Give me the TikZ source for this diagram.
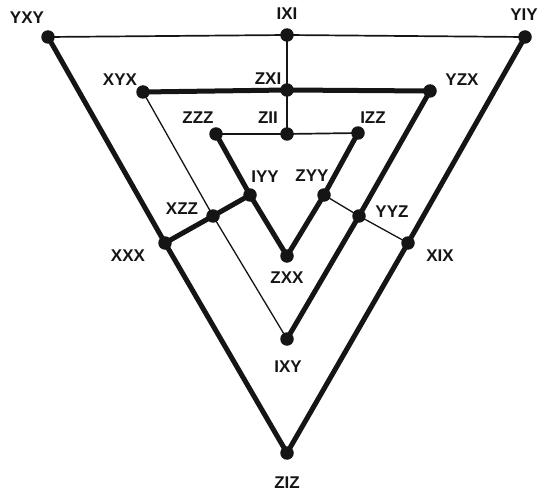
\documentclass[tikz,border=0pt]{standalone}
\usepackage{fontspec}
\setmainfont{Liberation Sans}
\usetikzlibrary{backgrounds}
\definecolor{ink}{HTML}{151515}
\tikzset{
  dot/.style={circle,fill=ink,inner sep=0pt,minimum size=13.5pt},
  lbl/.style={inner sep=0pt,text=ink,font=\fontsize{17}{20}\selectfont\bfseries},
  thickedge/.style={draw=ink,line width=5pt,line cap=round,line join=round},
  thinedge/.style={draw=ink,line width=1.7pt},
  fineedge/.style={draw=ink,line width=1.3pt}
}
\begin{document}
\begin{tikzpicture}[x=1pt,y=-1pt]
\useasboundingbox (0,0) rectangle (541,492);
% dots
\node[dot] (yxy) at (48,37) {};
\node[dot] (ixi) at (287,35) {};
\node[dot] (yiy) at (525,37) {};
\node[dot] (xyx) at (143,92) {};
\node[dot] (zxi) at (287,90) {};
\node[dot] (yzx) at (430,91) {};
\node[dot] (zzz) at (216,134) {};
\node[dot] (zii) at (287,134) {};
\node[dot] (izz) at (358,133) {};
\node[dot] (iyy) at (250,195) {};
\node[dot] (zyy) at (324,195) {};
\node[dot] (xzz) at (213,216) {};
\node[dot] (yyz) at (359,216) {};
\node[dot] (xxx) at (165,243) {};
\node[dot] (xix) at (408,243) {};
\node[dot] (zxx) at (287,256) {};
\node[dot] (ixy) at (287,339) {};
\node[dot] (ziz) at (287,453) {};
% labels
\node[lbl] (Lyxy) at (27,18) {YXY};
\node[lbl] (Lixi) at (287,14) {IXI};
\node[lbl] (Lyiy) at (524,15) {YIY};
\node[lbl] (Lxyx) at (120,80) {XYX};
\node[lbl] (Lzxi) at (268,79) {ZXI};
\node[lbl] (Lyzx) at (462,80) {YZX};
\node[lbl] (Lzzz) at (198,118) {ZZZ};
\node[lbl] (Lzii) at (268,118) {ZII};
\node[lbl] (Lizz) at (373,118) {IZZ};
\node[lbl] (Liyy) at (265,177) {IYY};
\node[lbl] (Lzyy) at (312,176) {ZYY};
\node[lbl] (Lxzz) at (182,209) {XZZ};
\node[lbl] (Lyyz) at (392,212) {YYZ};
\node[lbl] (Lxxx) at (128,256) {XXX};
\node[lbl] (Lxix) at (440,256) {XIX};
\node[lbl] (Lzxx) at (287,278) {ZXX};
\node[lbl] (Lixy) at (288,367) {IXY};
\node[lbl] (Lziz) at (287,483) {ZIZ};
% edges
\begin{pgfonlayer}{background}
\path[thinedge] (yxy.center) -- (ixi.center) -- (yiy.center);
\path[thinedge] (ixi.center) -- (zxi.center) -- (zii.center);
\path[thinedge] (zzz.center) -- (zii.center) -- (izz.center);
\path[thickedge] (xyx.center) -- (zxi.center) -- (yzx.center);
\path[thickedge] (yxy.center) -- (xxx.center) -- (ziz.center) -- (xix.center) -- (yiy.center);
\path[thickedge] (yzx.center) -- (yyz.center) -- (ixy.center);
\path[thickedge] (zzz.center) -- (iyy.center) -- (zxx.center) -- (zyy.center) -- (izz.center);
\path[thickedge] (xxx.center) -- (xzz.center) -- (iyy.center);
\path[fineedge] (xyx.center) -- (xzz.center) -- (ixy.center);
\path[fineedge] (zyy.center) -- (yyz.center) -- (xix.center);
\end{pgfonlayer}
\end{tikzpicture}
\end{document}
